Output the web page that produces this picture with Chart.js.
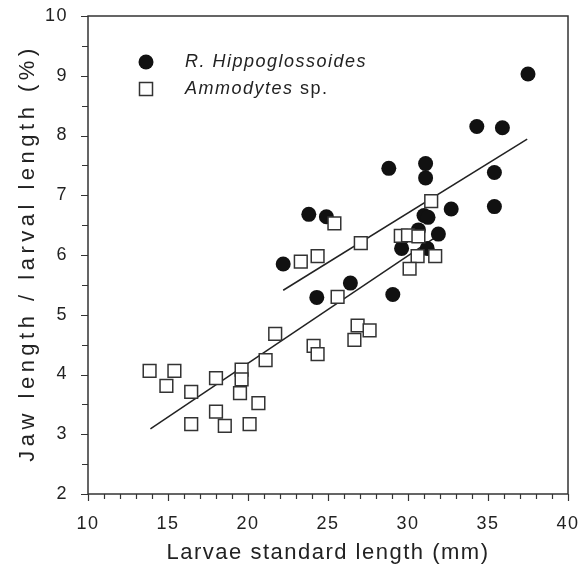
<!DOCTYPE html>
<html lang="en">
<head>
<meta charset="UTF-8">
<title>Jaw length vs larval length</title>
<script src="https://cdn.jsdelivr.net/npm/chart.js"></script>
<style>
    html, body { margin: 0; padding: 0; background: #ffffff; }
    .wrap { width: 579px; height: 573px; position: relative; }
</style>
</head>
<body>
<div class="wrap"><canvas id="jawChart"></canvas></div>
<script>
// R. hippoglossoides (filled circles)
const hippoX = [22.2, 23.8, 24.9, 24.3, 26.4, 28.8, 31.1, 31.1, 32.7, 31.0, 31.25, 31.9, 30.65, 29.6, 31.2, 29.05, 37.5, 34.3, 35.9, 35.4, 35.4];
const hippoY = [5.85, 6.68, 6.64, 5.29, 5.53, 7.45, 7.53, 7.29, 6.77, 6.66, 6.63, 6.35, 6.42, 6.11, 6.11, 5.34, 9.03, 8.15, 8.13, 7.38, 6.81];

// Ammodytes sp. (open squares)
const ammoX = [13.85, 15.4, 14.9, 16.45, 18.0, 19.6, 19.6, 21.1, 19.5, 20.65, 18.0, 16.45, 18.55, 20.1, 21.7, 24.1, 24.35, 26.65, 26.85, 27.6, 25.6, 23.3, 24.35, 25.4, 27.05, 29.55, 30.0, 30.65, 30.6, 31.7, 30.1, 31.45];
const ammoY = [4.06, 4.06, 3.81, 3.71, 3.94, 4.08, 3.92, 4.24, 3.69, 3.52, 3.38, 3.17, 3.14, 3.17, 4.68, 4.48, 4.34, 4.58, 4.82, 4.74, 5.30, 5.89, 5.98, 6.53, 6.20, 6.32, 6.33, 6.31, 5.98, 5.98, 5.77, 6.90];

// regression lines, end points
const fitHippoX = [22.2, 37.45];
const fitHippoY = [5.41, 7.94];
const fitAmmoX = [13.9, 31.8];
const fitAmmoY = [3.09, 6.31];

const xTicks = [10, 15, 20, 25, 30, 35, 40];
const yTicks = [2, 3, 4, 5, 6, 7, 8, 9, 10];
const yTitle = 'Jaw length / larval length (%)';

const axisColor = '#333333';
const textColor = '#222222';
const fontFamily = "'Liberation Sans', Arial, sans-serif";

function toPoints(xs, ys) {
    return xs.map((x, i) => ({ x: x, y: ys[i] }));
}

// letter spacing, box, minor ticks, y title and legend
const framePlugin = {
    id: 'frame',
    beforeDraw(chart) {
        chart.ctx.letterSpacing = '1.5px';
    },
    afterDraw(chart) {
        const ctx = chart.ctx;
        const area = chart.chartArea;
        const xs = chart.scales.x;
        const ys = chart.scales.y;
        ctx.save();
        ctx.strokeStyle = axisColor;
        ctx.lineWidth = 1.5;
        ctx.strokeRect(area.left, area.top, area.right - area.left, area.bottom - area.top);

        ctx.lineWidth = 1.2;
        ctx.beginPath();
        for (let v = xTicks[0]; v <= xTicks[xTicks.length - 1]; v += 1) {
            const px = Math.round(xs.getPixelForValue(v)) + 0.5;
            const len = v % 5 === 0 ? 7 : 5;
            ctx.moveTo(px, area.bottom);
            ctx.lineTo(px, area.bottom + len);
        }
        for (let v = yTicks[0]; v <= yTicks[yTicks.length - 1]; v += 0.5) {
            const py = Math.round(ys.getPixelForValue(v)) + 0.5;
            const len = v % 1 === 0 ? 7 : 6;
            ctx.moveTo(area.left, py);
            ctx.lineTo(area.left - len, py);
        }
        ctx.stroke();

        // y axis title, wider spaced than the rest
        ctx.save();
        ctx.translate(28, (area.top + area.bottom) / 2);
        ctx.rotate(-Math.PI / 2);
        ctx.letterSpacing = '4.5px';
        ctx.font = '22px ' + fontFamily;
        ctx.fillStyle = textColor;
        ctx.textAlign = 'center';
        ctx.textBaseline = 'middle';
        ctx.fillText(yTitle, 2, 0);
        ctx.restore();

        // legend
        const lx = area.left + 58;
        const ly1 = area.top + 46;
        const ly2 = area.top + 73;
        ctx.fillStyle = '#111111';
        ctx.beginPath();
        ctx.arc(lx, ly1, 7.5, 0, Math.PI * 2);
        ctx.fill();
        ctx.strokeStyle = '#333333';
        ctx.lineWidth = 1.5;
        ctx.fillStyle = '#ffffff';
        ctx.fillRect(lx - 6.5, ly2 - 6.5, 13, 13);
        ctx.strokeRect(lx - 6.5, ly2 - 6.5, 13, 13);

        ctx.letterSpacing = '1.5px';
        ctx.fillStyle = textColor;
        ctx.textBaseline = 'middle';
        ctx.textAlign = 'left';
        ctx.font = 'italic 18px ' + fontFamily;
        ctx.fillText('R. Hippoglossoides', lx + 39, ly1);
        ctx.fillText('Ammodytes', lx + 39, ly2);
        const w = ctx.measureText('Ammodytes').width;
        ctx.font = '18px ' + fontFamily;
        ctx.fillText(' sp.', lx + 39 + w, ly2);
        ctx.restore();
    }
};

const ctx = document.getElementById('jawChart').getContext('2d');
new Chart(ctx, {
    type: 'scatter',
    data: {
        datasets: [{
            label: 'Ammodytes sp.',
            data: toPoints(ammoX, ammoY),
            pointStyle: 'rect',
            pointRadius: 9,
            pointBackgroundColor: '#ffffff',
            pointBorderColor: '#333333',
            pointBorderWidth: 1.5
        }, {
            label: 'R. Hippoglossoides',
            data: toPoints(hippoX, hippoY),
            pointStyle: 'circle',
            pointRadius: 7.5,
            pointBackgroundColor: '#111111',
            pointBorderColor: '#111111',
            pointBorderWidth: 0
        }, {
            type: 'line',
            label: 'fit hippo',
            data: toPoints(fitHippoX, fitHippoY),
            borderColor: '#222222',
            borderWidth: 1.5,
            pointRadius: 0,
            fill: false
        }, {
            type: 'line',
            label: 'fit ammo',
            data: toPoints(fitAmmoX, fitAmmoY),
            borderColor: '#222222',
            borderWidth: 1.5,
            pointRadius: 0,
            fill: false
        }]
    },
    options: {
        responsive: true,
        maintainAspectRatio: false,
        animation: false,
        layout: { padding: { left: 0, right: 11, top: 16, bottom: 0 } },
        plugins: {
            legend: { display: false },
            tooltip: { enabled: false }
        },
        scales: {
            x: {
                type: 'linear',
                min: 10,
                max: 40,
                afterBuildTicks: (scale) => { scale.ticks = xTicks.map(v => ({ value: v })); },
                afterFit: (scale) => {
                    scale.height = 79;
                    scale.paddingLeft = 0;
                    scale.paddingRight = 0;
                },
                grid: { display: false, drawTicks: false },
                border: { display: false },
                ticks: {
                    color: textColor,
                    padding: 19,
                    maxRotation: 0,
                    font: { family: fontFamily, size: 18 }
                },
                title: {
                    display: true,
                    text: 'Larvae standard length (mm)',
                    color: textColor,
                    padding: { top: 0, bottom: 7 },
                    font: { family: fontFamily, size: 22 }
                }
            },
            y: {
                type: 'linear',
                min: 2,
                max: 10,
                afterBuildTicks: (scale) => { scale.ticks = yTicks.map(v => ({ value: v })); },
                afterFit: (scale) => {
                    scale.width = 88;
                    scale.paddingTop = 0;
                    scale.paddingBottom = 0;
                },
                grid: { display: false, drawTicks: false },
                border: { display: false },
                ticks: {
                    color: textColor,
                    padding: 20,
                    font: { family: fontFamily, size: 18 }
                },
                title: { display: false }
            }
        }
    },
    plugins: [framePlugin]
});
</script>
</body>
</html>
